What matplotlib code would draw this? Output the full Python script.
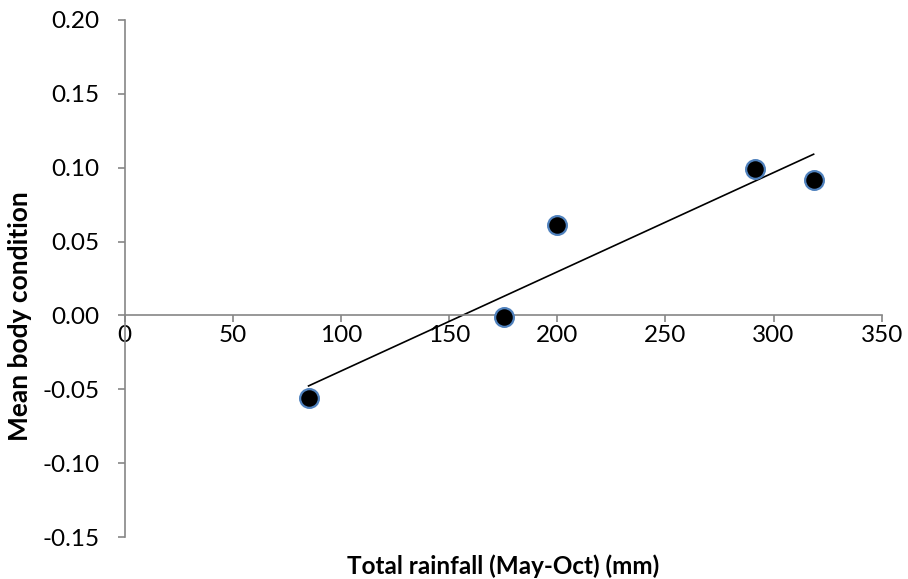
import numpy as np
import matplotlib
matplotlib.use('Agg')
import matplotlib.pyplot as plt

plt.rcParams['font.family'] = ['Lato', 'DejaVu Sans']

# mean body condition against total May-Oct rainfall
rainfall = [85, 175.5, 200, 291.5, 318.5]
condition = [-0.056, -0.001, 0.061, 0.099, 0.092]

x_ticks = [0, 50, 100, 150, 200, 250, 300, 350]
y_ticks = [-0.15, -0.10, -0.05, 0.00, 0.05, 0.10, 0.15, 0.20]

axis_grey = '#868686'

fig = plt.figure(figsize=(9.08, 5.79), dpi=100)
ax = fig.add_axes([0.1373, 0.0725, 0.8338, 0.893])

# linear trendline over the observed rainfall range
slope, intercept = np.polyfit(rainfall, condition, 1)
xs = np.array([min(rainfall), max(rainfall)])
ax.plot(xs, slope * xs + intercept, color='black', lw=1.2, zorder=2)

ax.plot(rainfall, condition, linestyle='none', marker='o', ms=13.5,
        mfc='black', mec='#4F81BD', mew=1.6, zorder=3)

ax.set_xlim(0, 350)
ax.set_ylim(-0.15, 0.20)
ax.set_xticks(x_ticks)
ax.set_yticks(y_ticks)
ax.set_xticklabels([str(t) for t in x_ticks])
ax.set_yticklabels(['%.2f' % t for t in y_ticks])

ax.spines['left'].set_position(('data', 0))
ax.spines['bottom'].set_position(('data', 0))
ax.spines['top'].set_visible(False)
ax.spines['right'].set_visible(False)
for side in ['left', 'bottom']:
    ax.spines[side].set_color(axis_grey)
    ax.spines[side].set_linewidth(1.2)
ax.tick_params(direction='out', length=5, width=1.2, color=axis_grey,
               labelsize=17.5, labelcolor='black')
ax.tick_params(axis='y', pad=13)
ax.tick_params(axis='x', pad=2)

fig.text(20 / 908, 1 - 316 / 579, 'Mean body condition', rotation=90,
         ha='center', va='center', fontsize=19, fontweight='bold')
fig.text(503 / 908, 1 - 566 / 579, 'Total rainfall (May-Oct) (mm)',
         ha='center', va='center', fontsize=17.5, fontweight='bold')

fig.savefig('out.png', dpi=100)
